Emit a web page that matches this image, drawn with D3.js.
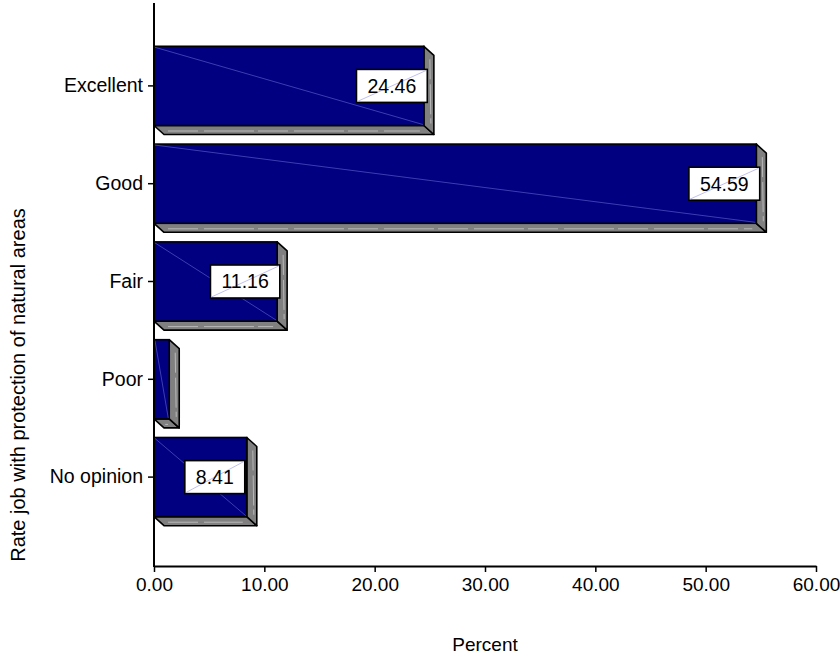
<!DOCTYPE html>
<html>
<head>
<meta charset="utf-8">
<script src="https://cdn.jsdelivr.net/npm/d3@7"></script>
<style>
  html, body { margin: 0; padding: 0; background: #fff; }
  text { font-family: Arial, "Liberation Sans", sans-serif; }
</style>
</head>
<body>
<svg id="chart" width="840" height="658"></svg>
<script>
const categories = ["Excellent", "Good", "Fair", "Poor", "No opinion"];
const values = [24.46, 54.59, 11.16, 1.38, 8.41];
const labels = ["24.46", "54.59", "11.16", "", "8.41"];
const xTicks = [0, 10, 20, 30, 40, 50, 60];
const xTitle = "Percent";
const yTitle = "Rate job with protection of natural areas";

const svg = d3.select("#chart");
const axisY = 566, axisX = 154;
const FONT = "Arial, 'Liberation Sans', sans-serif";

const x = d3.scaleLinear().domain([0, 60]).range([axisX, 816]);
const y = d3.scaleBand().domain(categories).range([37, 526])
  .paddingInner(0.19).paddingOuter(0.095);

const dx = 10, dy = 9;
const data = categories.map((c, i) => ({ c, v: values[i], l: labels[i] }));

const bars = svg.append("g");
data.forEach(d => {
  const x0 = x(0), x1 = x(d.v), t = y(d.c), b = y(d.c) + y.bandwidth();
  const g = bars.append("g");
  // bottom face
  g.append("path")
    .attr("d", `M${x0},${b}L${x1},${b}L${x1 + dx},${b + dy}L${x0 + dx},${b + dy}Z`)
    .attr("fill", "#808080").attr("stroke", "#000").attr("stroke-width", 1.6)
    .attr("stroke-linejoin", "round");
  g.append("line")
    .attr("x1", x0 + dx + 4).attr("y1", b + dy / 2 + 1)
    .attr("x2", x1 - 4).attr("y2", b + dy / 2 + 1)
    .attr("stroke", "#b8b8b8").attr("stroke-width", 1).attr("stroke-dasharray", "30,6,50,4");
  // side face
  g.append("path")
    .attr("d", `M${x1},${t}L${x1 + dx},${t + dy}L${x1 + dx},${b + dy}L${x1},${b}Z`)
    .attr("fill", "#808080").attr("stroke", "#000").attr("stroke-width", 1.6)
    .attr("stroke-linejoin", "round");
  g.append("line")
    .attr("x1", x1 + dx / 2 + 1).attr("y1", t + dy + 4)
    .attr("x2", x1 + dx / 2 + 2).attr("y2", b - 2)
    .attr("stroke", "#b8b8b8").attr("stroke-width", 1).attr("stroke-dasharray", "20,5,30,4");
  // front face
  g.append("rect")
    .attr("x", x0).attr("y", t).attr("width", x1 - x0).attr("height", b - t)
    .attr("fill", "#000080").attr("stroke", "#000").attr("stroke-width", 1.6);
  g.append("line")
    .attr("x1", x0 + 1).attr("y1", t + 1).attr("x2", x1 - 1).attr("y2", b - 1)
    .attr("stroke", "#6f6fd8").attr("stroke-width", 0.7).attr("opacity", 0.8);
});

// value labels
const lab = svg.append("g").attr("font-size", 19.5);
data.filter(d => d.l).forEach(d => {
  const cx = x(d.v) - 32, cy = y(d.c) + y.bandwidth() / 2;
  const g = lab.append("g");
  const txt = g.append("text").attr("x", cx).attr("y", cy)
    .attr("text-anchor", "middle").attr("dy", "0.35em").attr("fill", "#000").text(d.l);
  const w = txt.node().getComputedTextLength() + 22, h = 33;
  g.insert("rect", "text").attr("x", cx - w / 2).attr("y", cy - h / 2)
    .attr("width", w).attr("height", h).attr("fill", "#fff")
    .attr("stroke", "#000").attr("stroke-width", 1.6);
  g.insert("line", "text").attr("x1", cx - w / 2 + 1).attr("y1", cy + h / 2 - 1)
    .attr("x2", cx + w / 2 - 1).attr("y2", cy - h / 2 + 1)
    .attr("stroke", "#b0b0ee").attr("stroke-width", 0.8);
});

// x axis
const xa = svg.append("g").attr("transform", `translate(0,${axisY})`)
  .call(d3.axisBottom(x).tickValues(xTicks).tickFormat(d3.format(".2f"))
    .tickSize(6).tickSizeOuter(0).tickPadding(6));
xa.select(".domain").attr("stroke-width", 2);
xa.selectAll(".tick line").attr("stroke-width", 1.5);
xa.selectAll("text").attr("font-size", 19).attr("font-family", FONT).attr("fill", "#000");

// y axis
const ya = svg.append("g").attr("transform", `translate(${axisX},0)`)
  .call(d3.axisLeft(y).tickSize(6).tickSizeOuter(0).tickPadding(5));
ya.select(".domain").remove();
ya.selectAll(".tick line").attr("stroke-width", 1.5);
ya.selectAll("text").attr("font-size", 19.5).attr("font-family", FONT).attr("fill", "#000");
svg.append("line").attr("x1", axisX).attr("x2", axisX).attr("y1", 3).attr("y2", axisY + 1)
  .attr("stroke", "#000").attr("stroke-width", 2);

// titles
svg.append("text").attr("x", (x(0) + x(60)) / 2).attr("y", 651)
  .attr("text-anchor", "middle").attr("font-size", 19).text(xTitle);
svg.append("text").attr("transform", `translate(25,385) rotate(-90)`)
  .attr("text-anchor", "middle").attr("font-size", 20).text(yTitle);
</script>
</body>
</html>
